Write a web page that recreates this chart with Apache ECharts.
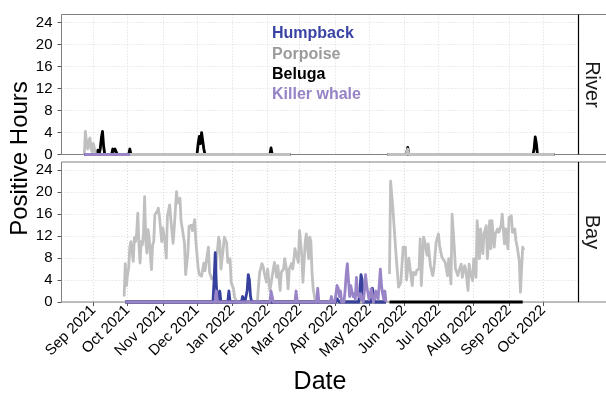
<!DOCTYPE html>
<html><head><meta charset="utf-8">
<script src="https://cdn.jsdelivr.net/npm/echarts@6/dist/echarts.min.js"></script>
<style>html,body{margin:0;padding:0;background:#fff}#c{width:606px;height:394px}</style>
</head><body><div id="c"></div>
<script>
// x values are day offsets from 2021-09-01 (day 0)
const monthTickDays = [0, 30, 61, 91, 122, 153, 181, 212, 242, 273, 303, 334, 365, 395];
const monthTickLabels = ['Sep 2021','Oct 2021','Nov 2021','Dec 2021','Jan 2022','Feb 2022','Mar 2022','Apr 2022','May 2022','Jun 2022','Jul 2022','Aug 2022','Sep 2022','Oct 2022'];
const yTicks = [0, 4, 8, 12, 16, 20, 24];
const panelNames = ['River', 'Bay'];
const speciesNames = ['Humpback', 'Porpoise', 'Beluga', 'Killer whale'];

// ---- River panel: [day, positive hours]
const riverHumpbackA = [[-8,0],[32,0]];
const riverKillerA = [[-8,0],[32,0]];
const riverPorpoiseA = [[-8,0],[-7,4.2],[-6,2],[-5,1],[-4,2.5],[-3,3],[-2,1],[-1,0.5],[0,2],[1,2.2],[2,0],[173,0]];
const riverPorpoiseB = [[258,0],[275,0],[276,1],[277,0],[405,0]];
const riverBelugaA = [[-8,0],[3,0],[4,0.8],[5,0],[6,1],[7,3],[8,4.2],[9,1.5],[10,0],[16,0],[17,1],[18,0.6],[19,1],[20,1],[21,0],[31,0],[32,1],[33,0],[91,0],[92,2],[93,3.3],[94,2],[95,4],[96,4.2],[97,1],[98,0],[155,0],[156,1.2],[157,0],[173,0]];
const riverBelugaB = [[258,0],[275,0],[276,1.3],[277,0],[386,0],[387,1],[388,3.2],[389,2],[390,0],[405,0]];

// ---- Bay panel
const bayPorpoiseA = [[27,1],[28,7],[29,3],[30,5],[31,6.2],[32,10],[33,11],[35,7.4],[36,11.7],[37,11],[38,12.6],[39,16.2],[40,10.4],[41,7.1],[42,11],[43,10.4],[44,12.6],[45,19.2],[46,11],[47,8.9],[48,13.2],[49,11.7],[51,5.9],[52,10.4],[53,11],[54,15.9],[56,16.5],[57,17.1],[58,15.6],[60,11],[61,13.5],[63,10.7],[64,8],[65,15.6],[67,17.7],[68,15],[70,10.7],[71,13.5],[73,20.1],[74,18],[76,18.9],[77,14.7],[78,13.5],[80,10.7],[81,5],[83,8.9],[84,13.8],[86,14],[87,13],[89,15],[90,11],[92,6.2],[93,5],[95,4.7],[96,5.9],[97,7.1],[98,5.7],[99,7.2],[101,10],[102,5.4],[104,4.2],[105,4.5],[107,4.8],[108,7.2],[110,11.8],[111,10.9],[112,6],[114,9.7],[115,11.8],[117,10.8],[118,7.2],[120,7.9],[121,3.6],[123,2.4],[124,0.9],[126,0],[144,0],[145,3],[146,5.4],[148,7],[149,6.5],[150,5.4],[152,3.6],[153,6],[155,2.1],[156,3.3],[158,6],[159,7.2],[161,4.5],[162,6.6],[164,2.1],[165,5.4],[167,6],[168,7.9],[170,5.4],[171,2.4],[172,6],[174,7],[175,6],[176,7.6],[177,9.7],[178,10],[180,7.2],[181,13],[183,8.5],[184,3.6],[186,10.9],[187,12.4],[189,7.9],[190,11.8],[191,11],[192,5.4],[193,2.4],[195,0],[257,0]];
const bayPorpoiseB = [[260,5.1],[261,22],[263,17],[266,8],[268,2.7],[270,3.6],[272,10],[274,10],[275,4],[277,8],[278,7.8],[280,3],[281,5.4],[283,5],[284,5.8],[286,6],[287,11.5],[288,3],[290,11.8],[291,11],[293,8.5],[294,10.6],[296,6.6],[298,4.8],[299,6],[301,10.9],[303,12.4],[304,10.3],[306,8.2],[307,8.5],[309,7.2],[311,4.8],[312,7.9],[314,3.3],[315,16],[317,9.7],[318,6],[320,4.8],[321,5.7],[323,6.9],[324,4.5],[326,6.6],[327,6],[329,2.1],[330,6.9],[331,5.4],[333,3.9],[334,7.9],[336,4.5],[337,14.8],[339,7.9],[340,13.3],[342,8.8],[343,12.4],[345,13.9],[346,7.9],[348,14.8],[349,9.7],[350,14.8],[352,10],[353,12.4],[355,13.3],[356,12.7],[358,13.9],[359,16],[361,10.6],[362,13.3],[364,9.7],[365,15.4],[367,15.7],[368,12.7],[370,13.3],[371,11.2],[372,10.3],[374,7.5],[375,1.8],[377,10],[378,9.4]];
const bayBelugaA = [[28,0],[257,0]];
const bayBelugaB = [[260,0],[377,0]];
const bayHumpbackA = [[28,0],[105,0],[106,4],[107,9],[108,3],[109,0],[110,0],[111,2],[112,0],[118,0],[119,2],[120,0],[130,0],[131,1],[132,0.8],[133,0],[134,0],[135,2],[136,5],[137,4],[138,1],[139,0],[213,0],[214,0.6],[215,0.4],[216,0],[233,0],[234,2],[235,5],[236,4],[237,0],[244,0],[245,2.5],[246,1],[247,0],[257,0]];
const bayKillerA = [[28,0],[107,0],[108,2],[109,0],[155,0],[156,2],[157,2],[158,0],[177,0],[178,2],[179,0],[196,0],[197,2.5],[198,0],[208,0],[209,1],[210,0],[212,0],[213,1.5],[214,3],[215,2.5],[216,1],[217,2],[218,0],[220,0],[221,2],[222,5],[223,7],[224,4],[225,1],[226,3],[227,3],[228,1],[229,1.5],[230,0.5],[231,4.5],[232,1.5],[233,1],[234,1.5],[235,0.5],[236,1],[237,0],[238,2],[239,5],[240,3],[241,1.8],[242,0.5],[243,1],[244,2.4],[245,1],[246,0],[247,1],[248,2],[249,1],[250,0.5],[251,3],[252,6],[253,3],[254,1.5],[255,0.5],[256,2],[257,0]];

// ---- styling
const FONT = 'Liberation Sans, Arial, Helvetica, sans-serif';
const lineColors = {'Humpback':'#38409e','Porpoise':'#c0c0c0','Beluga':'#000000','Killer whale':'#9884c6'};
const textColors = {'Humpback':'#3b44a4','Porpoise':'#9b9b9b','Beluga':'#000000','Killer whale':'#9683c5'};

const grids = [
  {left: 61.5, top: 14.5, width: 517, height: 140},
  {left: 61.5, top: 162, width: 517, height: 140}
];

function mk(name, data, gi) {
  return {
    type: 'line', name: name, xAxisIndex: gi, yAxisIndex: gi, data: data,
    showSymbol: false, symbol: 'none', clip: false, animation: false, z: 5,
    lineStyle: {color: lineColors[name], width: 2.8, join: 'round'},
    itemStyle: {color: lineColors[name]}
  };
}

const series = [
  mk('Beluga', riverBelugaA, 0), mk('Beluga', riverBelugaB, 0),
  mk('Porpoise', riverPorpoiseA, 0), mk('Porpoise', riverPorpoiseB, 0),
  mk('Humpback', riverHumpbackA, 0), mk('Killer whale', riverKillerA, 0),
  mk('Beluga', bayBelugaA, 1), mk('Beluga', bayBelugaB, 1),
  mk('Porpoise', bayPorpoiseA, 1), mk('Porpoise', bayPorpoiseB, 1),
  mk('Humpback', bayHumpbackA, 1), mk('Killer whale', bayKillerA, 1)
];

const gridLine = {show: true, lineStyle: {color: '#dadada', width: 1, type: [1, 2]}};

const xAxes = grids.map((g, i) => ({
  type: 'value', gridIndex: i, min: -28, max: 426,
  axisLine: {show: false, onZero: false},
  axisTick: {show: i === 1, customValues: monthTickDays, length: 4, lineStyle: {color: '#555'}},
  axisLabel: {show: i === 1, customValues: monthTickDays, rotate: 45, margin: 6,
    fontSize: 15, color: '#000', fontFamily: FONT,
    formatter: v => monthTickLabels[monthTickDays.indexOf(v)] || ''},
  splitLine: gridLine
}));
const yAxes = grids.map((g, i) => ({
  type: 'value', gridIndex: i, min: 0, max: 25.5,
  axisLine: {show: false, onZero: false},
  axisTick: {show: true, customValues: yTicks, length: 4, lineStyle: {color: '#555'}},
  axisLabel: {customValues: yTicks, margin: 9, fontSize: 15, color: '#000', fontFamily: FONT},
  splitLine: gridLine
}));

const graphics = [];
grids.forEach((g, i) => {
  const x0 = g.left, x1 = g.left + g.width, y0 = g.top, y1 = g.top + g.height;
  const gray = {stroke: '#808080', lineWidth: 1};
  graphics.push({type: 'line', shape: {x1: x0, y1: y0, x2: 606, y2: y0}, style: gray, silent: true, z: 1});
  graphics.push({type: 'line', shape: {x1: x0, y1: y1, x2: 606, y2: y1}, style: gray, silent: true, z: 1});
  graphics.push({type: 'line', shape: {x1: x0, y1: y0, x2: x0, y2: y1}, style: gray, silent: true, z: 1});
  graphics.push({type: 'line', shape: {x1: x1, y1: y0, x2: x1, y2: y1}, style: {stroke: '#000', lineWidth: 1.2}, silent: true, z: 1});
  graphics.push({type: 'text', x: 592, y: (y0 + y1) / 2, rotation: -Math.PI / 2, silent: true,
    style: {text: panelNames[i], font: '20px ' + FONT, fill: '#1a1a1a', textAlign: 'center', textVerticalAlign: 'middle'}});
});
graphics.push({type: 'text', x: 20, y: 158.5, rotation: Math.PI / 2, silent: true,
  style: {text: 'Positive Hours', font: '24px ' + FONT, fill: '#000', textAlign: 'center', textVerticalAlign: 'middle'}});
graphics.push({type: 'text', x: 320, y: 382, silent: true,
  style: {text: 'Date', font: '25px ' + FONT, fill: '#000', textAlign: 'center', textVerticalAlign: 'middle'}});

const chart = echarts.init(document.getElementById('c'), null, {renderer: 'canvas'});
chart.setOption({
  animation: false,
  backgroundColor: '#fff',
  grid: grids,
  xAxis: xAxes,
  yAxis: yAxes,
  legend: {
    orient: 'vertical', left: 262, top: 21, itemWidth: 0, itemHeight: 16, itemGap: 4.3,
    selectedMode: false, icon: 'rect', z: 10,
    itemStyle: {opacity: 0}, lineStyle: {opacity: 0},
    textStyle: {fontSize: 16, fontWeight: 'bold', fontFamily: FONT},
    data: speciesNames.map(n => ({name: n, textStyle: {color: textColors[n]}}))
  },
  series: series,
  graphic: graphics
});
</script></body></html>
